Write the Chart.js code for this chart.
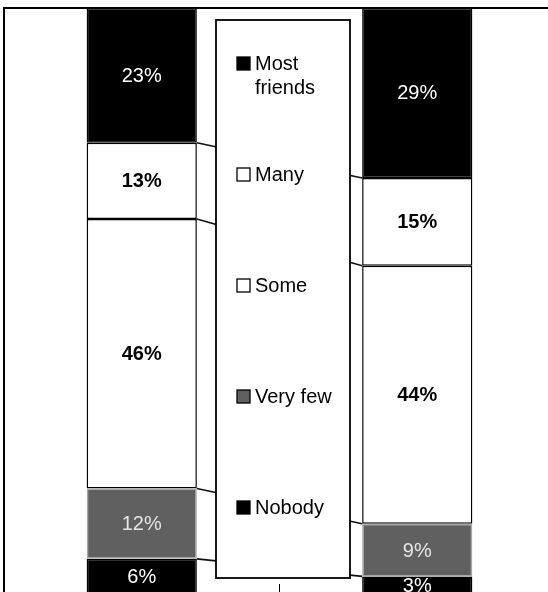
<!DOCTYPE html>
<html>
<head>
<meta charset="utf-8">
<script src="https://cdn.jsdelivr.net/npm/chart.js@4/dist/chart.umd.min.js"></script>
<style>
  html, body { margin: 0; padding: 0; background: #fff; overflow: hidden; }
  #wrap { position: absolute; left: 0; top: 0; width: 560px; height: 600px; }
</style>
</head>
<body>
<div id="wrap"><canvas id="friends-ch" width="560" height="600"></canvas></div>
<script>
// two stacked bars, bottom segment first
var categories = ["Group 1", "Group 2"];
var seriesNames = ["Nobody", "Very few", "Some", "Many", "Most friends"];
var nobody = [6, 3];
var veryFew = [12, 9];
var some = [46, 44];
var many = [13, 15];
var mostFriends = [23, 29];
var yRange = [0, 100];

var fills = ["#000000", "#606060", "#ffffff", "#ffffff", "#000000"];
var edges = ["#000000", "#a8a8a8", "#000000", "#000000", "#000000"];
var labelColors = ["#ffffff", "#e4e4e4", "#000000", "#000000", "#ffffff"];
var labelBold = [false, false, true, true, false];

var seriesValues = [nobody, veryFew, some, many, mostFriends];
var datasets = seriesValues.map(function (vals, i) {
  return {
    label: seriesNames[i],
    data: vals,
    backgroundColor: fills[i],
    borderColor: edges[i],
    borderWidth: 1.5,
    borderSkipped: false,
    categoryPercentage: 1,
    barPercentage: 0.4,
  };
});

var FONT = '"Liberation Sans", Arial, sans-serif';

// series lines, plot frame, value labels, legend box in the middle
var extras = {
  id: "extras",
  beforeDatasetsDraw: function (chart) {
    var c = chart.ctx;
    var a = chart.chartArea;
    c.save();
    c.strokeStyle = "#111";
    c.lineWidth = 1.6;
    chart.data.datasets.forEach(function (ds, i) {
      var m = chart.getDatasetMeta(i).data;
      c.beginPath();
      c.moveTo(m[0].x + m[0].width / 2, m[0].y);
      c.lineTo(m[1].x - m[1].width / 2, m[1].y);
      c.stroke();
    });
    // frame
    c.lineWidth = 2;
    c.strokeStyle = "#000";
    c.strokeRect(a.left, a.top, a.right - a.left, a.bottom - a.top);
    // category divider tick
    var xs = chart.scales.x;
    var mid = (xs.getPixelForValue(0) + xs.getPixelForValue(1)) / 2;
    c.lineWidth = 1;
    c.beginPath();
    c.moveTo(mid, a.bottom - 10);
    c.lineTo(mid, a.bottom);
    c.stroke();
    c.restore();
  },
  afterDatasetsDraw: function (chart) {
    var c = chart.ctx;
    c.save();
    c.textAlign = "center";
    c.textBaseline = "middle";
    chart.data.datasets.forEach(function (ds, i) {
      chart.getDatasetMeta(i).data.forEach(function (bar, j) {
        var p = bar.getCenterPoint();
        c.font = (labelBold[i] ? "bold " : "") + "20px " + FONT;
        c.fillStyle = labelColors[i];
        c.fillText(ds.data[j] + "%", p.x, p.y + 1);
      });
    });

    // legend box
    var box = { left: 216, top: 20, right: 350, bottom: 578 };
    c.fillStyle = "#fff";
    c.fillRect(box.left, box.top, box.right - box.left, box.bottom - box.top);
    c.lineWidth = 1.8;
    c.strokeStyle = "#000";
    c.strokeRect(box.left, box.top, box.right - box.left, box.bottom - box.top);

    c.font = "20px " + FONT;
    c.textAlign = "left";
    var n = chart.data.datasets.length;
    for (var k = 0; k < n; k++) {
      var i = n - 1 - k;
      var ds = chart.data.datasets[i];
      var y = box.top + 43 + k * 111;
      var mx = box.left + 21;
      c.fillStyle = ds.backgroundColor;
      c.fillRect(mx, y - 6, 13, 13);
      c.lineWidth = 1.3;
      c.strokeStyle = "#000";
      c.strokeRect(mx, y - 6, 13, 13);
      c.fillStyle = "#000";
      var lines = [ds.label];
      if (c.measureText(ds.label).width > 90) lines = ds.label.split(" ");
      lines.forEach(function (t, li) {
        c.fillText(t, box.left + 39, y + 1 + li * 24);
      });
    }
    c.restore();
  },
};

var ctx = document.getElementById("friends-ch");
var myChart = new Chart(ctx, {
  type: "bar",
  data: { labels: categories, datasets: datasets },
  options: {
    responsive: false,
    animation: false,
    layout: { padding: { left: 4, top: 8, right: 5, bottom: 6 } },
    plugins: { legend: { display: false }, tooltip: { enabled: false } },
    scales: {
      x: { stacked: true, display: false },
      y: { stacked: true, display: false, min: yRange[0], max: yRange[1] },
    },
  },
  plugins: [extras],
});
</script>
</body>
</html>
